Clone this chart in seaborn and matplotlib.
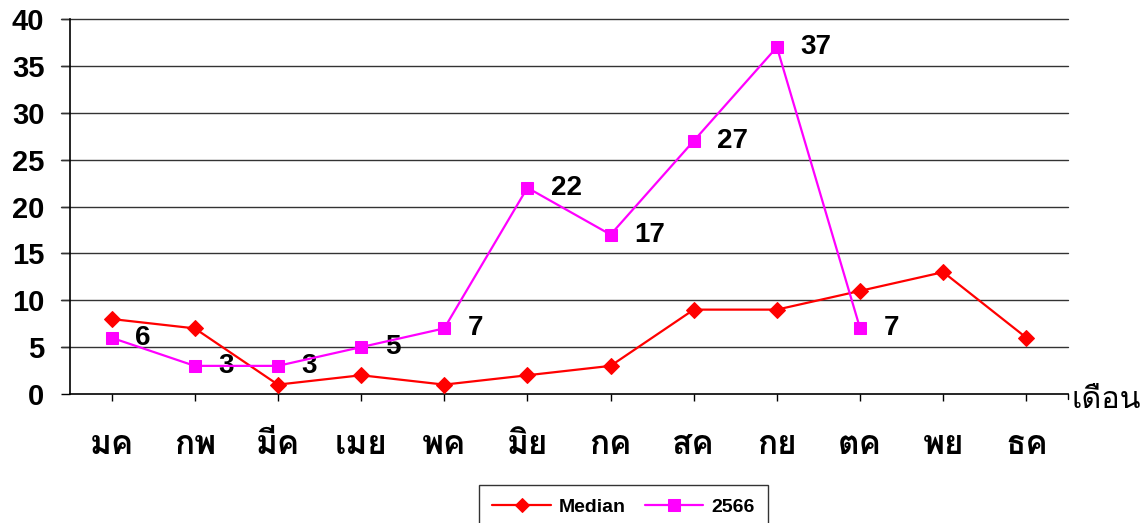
import numpy as np
import pandas as pd
import matplotlib
matplotlib.use("Agg")
import matplotlib.pyplot as plt
import seaborn as sns
from matplotlib import font_manager
from matplotlib.ft2font import FT2Font

# data
months = ['มค', 'กพ', 'มีค', 'เมย', 'พค', 'มิย', 'กค', 'สค', 'กย', 'ตค', 'พย', 'ธค']
median_cases = [8, 7, 1, 2, 1, 2, 3, 9, 9, 11, 13, 6]
cases_2566 = [6, 3, 3, 5, 7, 22, 17, 27, 37, 7, np.nan, np.nan]
y_ticks = [0, 5, 10, 15, 20, 25, 30, 35, 40]


def thai_family():
    # find an installed font that has Thai glyphs
    for f in font_manager.fontManager.ttflist:
        try:
            if 0x0E21 in FT2Font(f.fname).get_charmap():
                return f.name
        except Exception:
            pass
    return 'DejaVu Sans'


sns.set_style("white")
fams = ['Liberation Sans', thai_family(), 'DejaVu Sans']
plt.rcParams['font.family'] = fams
plt.rcParams['text.color'] = 'black'
plt.rcParams['xtick.color'] = 'black'
plt.rcParams['ytick.color'] = 'black'

df = pd.DataFrame({
    'pos': np.arange(len(months)),
    'Median': median_cases,
    '2566': cases_2566,
})

fig = plt.figure(figsize=(11.46, 5.23), dpi=100)
ax = fig.add_axes([70 / 1146, 1 - 394 / 523, 998 / 1146, 375 / 523])

sns.lineplot(data=df, x='pos', y='Median', ax=ax, color='#FF0000',
             marker='D', markersize=8, markeredgecolor='#FF0000',
             linewidth=1.6, label='Median', zorder=3)
sns.lineplot(data=df.dropna(), x='pos', y='2566', ax=ax, color='#FF00FF',
             marker='s', markersize=9, markeredgecolor='#FF00FF',
             linewidth=1.6, label='2566', zorder=4)

# value labels next to the 2566 points
for x, v in zip(df['pos'], df['2566']):
    if not np.isnan(v):
        ax.annotate(f"{int(v)}", (x, v), xytext=(17, 0), textcoords='offset points',
                    ha='left', va='center', fontsize=20, fontweight='bold',
                    color='black')

ax.set_xlim(-0.5, len(months) - 0.5)
ax.set_ylim(0, 40)
ax.set_yticks(y_ticks)
ax.set_xticks(df['pos'])
ax.set_xticklabels(months, fontsize=24, fontweight='bold')
ax.set_yticklabels([str(t) for t in y_ticks], fontsize=21, fontweight='bold')
ax.set_xlabel('')
ax.set_ylabel('')

for t in y_ticks[1:]:
    ax.plot([-0.5 - 9 / 83.2, len(months) - 0.5], [t, t], color='#333333',
            linewidth=1, clip_on=False, zorder=1)
ax.plot([len(months) - 0.5] * 2, [0, -0.5], color='black', linewidth=1,
        clip_on=False)

ax.tick_params(axis='y', length=6.5, width=1, pad=12, direction='out', left=True)
ax.tick_params(axis='x', length=5, width=1, pad=21, direction='out', bottom=True)
for s in ['top', 'right']:
    ax.spines[s].set_visible(False)
ax.spines['left'].set_color('black')
ax.spines['bottom'].set_color('black')
ax.spines['left'].set_linewidth(1.2)
ax.spines['bottom'].set_linewidth(1.2)

ax.text(1.004, -0.015, 'เดือน', transform=ax.transAxes, ha='left', va='center',
        fontsize=22)

ax.get_legend().remove()
h, l = ax.get_legend_handles_labels()
leg = fig.legend(h, l, loc='upper center', bbox_to_anchor=(623.5 / 1146, 1 - 485 / 523),
                 ncol=2, frameon=True, fancybox=False, edgecolor='black',
                 prop={'weight': 'bold', 'size': 14}, handlelength=3.0,
                 handletextpad=0.4, columnspacing=1.0, borderpad=0.7,
                 borderaxespad=0, markerscale=0.9)
leg.get_frame().set_linewidth(1)

fig.savefig('out.png', dpi=100)
